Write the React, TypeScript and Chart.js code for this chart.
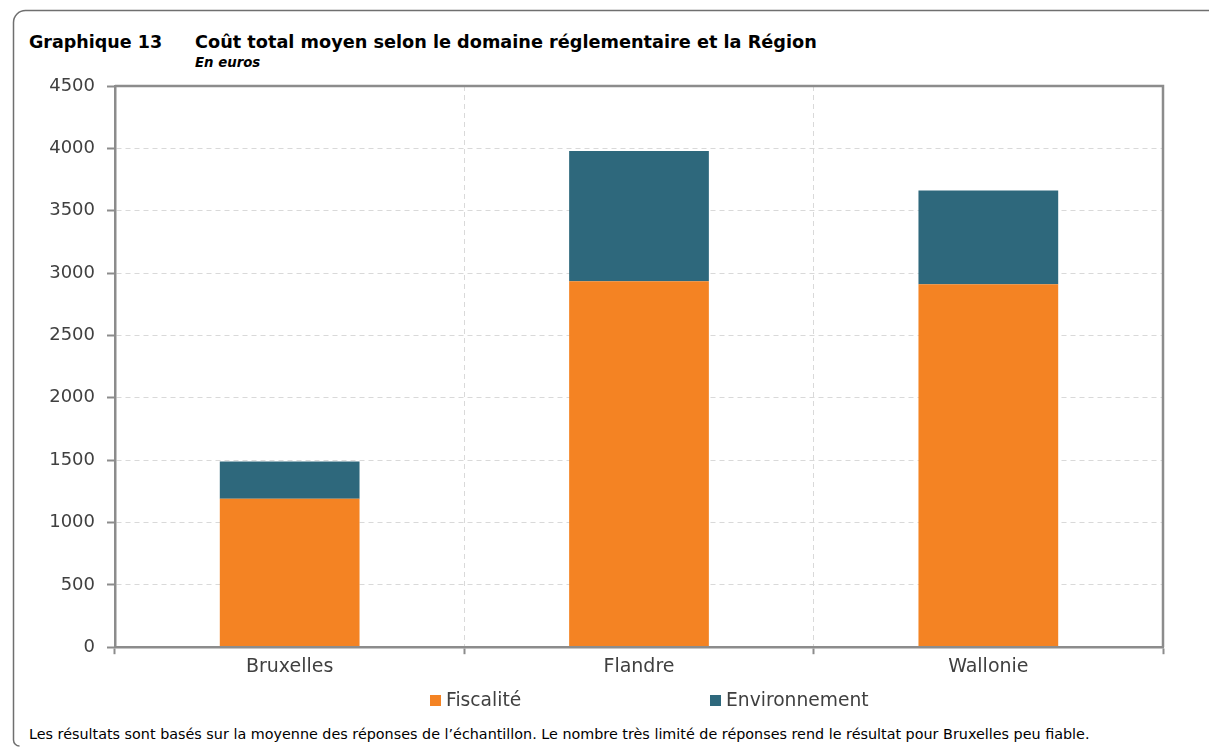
import React, { useEffect, useRef } from "react";
import { Chart, registerables } from "chart.js";

Chart.register(...registerables);

const categories = ["Bruxelles", "Flandre", "Wallonie"];
const fiscalite = [1190, 2935, 2910];
const environnement = [300, 1043, 752];
const seriesNames = ["Fiscalité", "Environnement"];
const seriesColors = ["#F48323", "#2E687C"];
const yMin = 0;
const yMax = 4500;
const yStep = 500;

const titleLabel = "Graphique 13";
const titleText = "Coût total moyen selon le domaine réglementaire et la Région";
const subtitleText = "En euros";
const footnote =
  "Les résultats sont basés sur la moyenne des réponses de l’échantillon. Le nombre très limité de réponses rend le résultat pour Bruxelles peu fiable.";

const AXIS = "#8c8c8c";
const GRID = "#d9d9d9";
const TEXT = "#404040";
const FONT = "'DejaVu Sans', Verdana, sans-serif";

const plotFrame = {
  id: "plotFrame",
  afterDatasetsDraw(chart: any) {
    const { ctx, chartArea } = chart;
    const { left, right, top, bottom } = chartArea;
    ctx.save();
    ctx.strokeStyle = AXIS;
    ctx.lineWidth = 2.5;
    ctx.beginPath();
    ctx.moveTo(left, top);
    ctx.lineTo(right, top);
    ctx.lineTo(right, bottom);
    ctx.stroke();
    ctx.restore();
  },
};

export default function App() {
  const canvasRef = useRef<HTMLCanvasElement | null>(null);

  useEffect(() => {
    document.body.style.margin = "0";
    document.body.style.overflow = "hidden";
    document.documentElement.style.overflow = "hidden";
    if (!canvasRef.current) return;
    const chart = new Chart(canvasRef.current, {
      type: "bar",
      data: {
        labels: categories,
        datasets: [
          {
            label: seriesNames[0],
            data: fiscalite,
            backgroundColor: seriesColors[0],
            borderWidth: 0,
            barPercentage: 0.4,
            categoryPercentage: 1,
          },
          {
            label: seriesNames[1],
            data: environnement,
            backgroundColor: seriesColors[1],
            borderWidth: 0,
            barPercentage: 0.4,
            categoryPercentage: 1,
          },
        ],
      },
      options: {
        animation: false,
        responsive: false,
        maintainAspectRatio: false,
        layout: { padding: { top: 26, right: 46, left: 0, bottom: 41 } },
        plugins: {
          legend: { display: false },
          tooltip: { enabled: false },
          title: { display: false },
        },
        scales: {
          x: {
            stacked: true,
            offset: true,
            grid: {
              display: true,
              offset: true,
              color: GRID,
              lineWidth: 1,
              tickColor: AXIS,
              tickWidth: 2,
              tickLength: 7,
              drawTicks: true,
            },
            border: { display: true, color: AXIS, width: 2.5, dash: [5, 4], z: 1 },
            ticks: {
              color: TEXT,
              padding: 1,
              font: { family: FONT, size: 19 },
            },
          },
          y: {
            stacked: true,
            min: yMin,
            max: yMax,
            afterFit(scale: any) {
              scale.width = 115;
            },
            grid: {
              color: GRID,
              lineWidth: 1,
              tickColor: AXIS,
              tickWidth: 2,
              tickLength: 8,
            },
            border: { display: true, color: AXIS, width: 2.5, dash: [5, 4], z: 1 },
            ticks: {
              stepSize: yStep,
              color: TEXT,
              padding: 12,
              font: { family: FONT, size: 18 },
              callback: (v: any) => String(v),
            },
          },
        },
      },
      plugins: [plotFrame],
    });
    return () => chart.destroy();
  }, []);

  return (
    <div
      style={{
        position: "relative",
        width: 1209,
        height: 751,
        overflow: "hidden",
        background: "#fff",
        fontFamily: FONT,
      }}
    >
      <svg
        width={1209}
        height={751}
        style={{ position: "absolute", left: 0, top: 0 }}
      >
        <path
          d="M 1209 10.5 H 25.5 A 12 12 0 0 0 13.5 22.5 V 740 A 6 6 0 0 0 19.5 746"
          fill="none"
          stroke="#6f6f6f"
          strokeWidth={1.5}
        />
      </svg>
      <div
        style={{
          position: "absolute",
          left: 29,
          top: 34,
          fontSize: 17.5,
          lineHeight: 1,
          fontWeight: "bold",
          color: "#000",
          whiteSpace: "nowrap",
        }}
      >
        {titleLabel}
      </div>
      <div
        style={{
          position: "absolute",
          left: 195,
          top: 34,
          fontSize: 17.7,
          lineHeight: 1,
          fontWeight: "bold",
          color: "#000",
          whiteSpace: "nowrap",
        }}
      >
        {titleText}
      </div>
      <div
        style={{
          position: "absolute",
          left: 195,
          top: 56,
          fontSize: 13.3,
          lineHeight: 1,
          fontWeight: "bold",
          fontStyle: "italic",
          color: "#000",
          whiteSpace: "nowrap",
        }}
      >
        {subtitleText}
      </div>
      <canvas
        ref={canvasRef}
        width={1209}
        height={660}
        style={{ position: "absolute", left: 0, top: 60, width: 1209, height: 660 }}
      />
      {seriesNames.map((name, i) => (
        <div
          key={name}
          style={{
            position: "absolute",
            left: i === 0 ? 430 : 710,
            top: 691,
            display: "flex",
            alignItems: "center",
            fontSize: 18.7,
            lineHeight: 1,
            color: TEXT,
            whiteSpace: "nowrap",
          }}
        >
          <span
            style={{
              display: "inline-block",
              width: 11,
              height: 11,
              background: seriesColors[i],
              marginRight: 5,
            }}
          />
          <span>{name}</span>
        </div>
      ))}
      <div
        style={{
          position: "absolute",
          left: 29,
          top: 727,
          fontSize: 14.35,
          lineHeight: 1,
          color: "#000",
          whiteSpace: "nowrap",
        }}
      >
        {footnote}
      </div>
    </div>
  );
}
